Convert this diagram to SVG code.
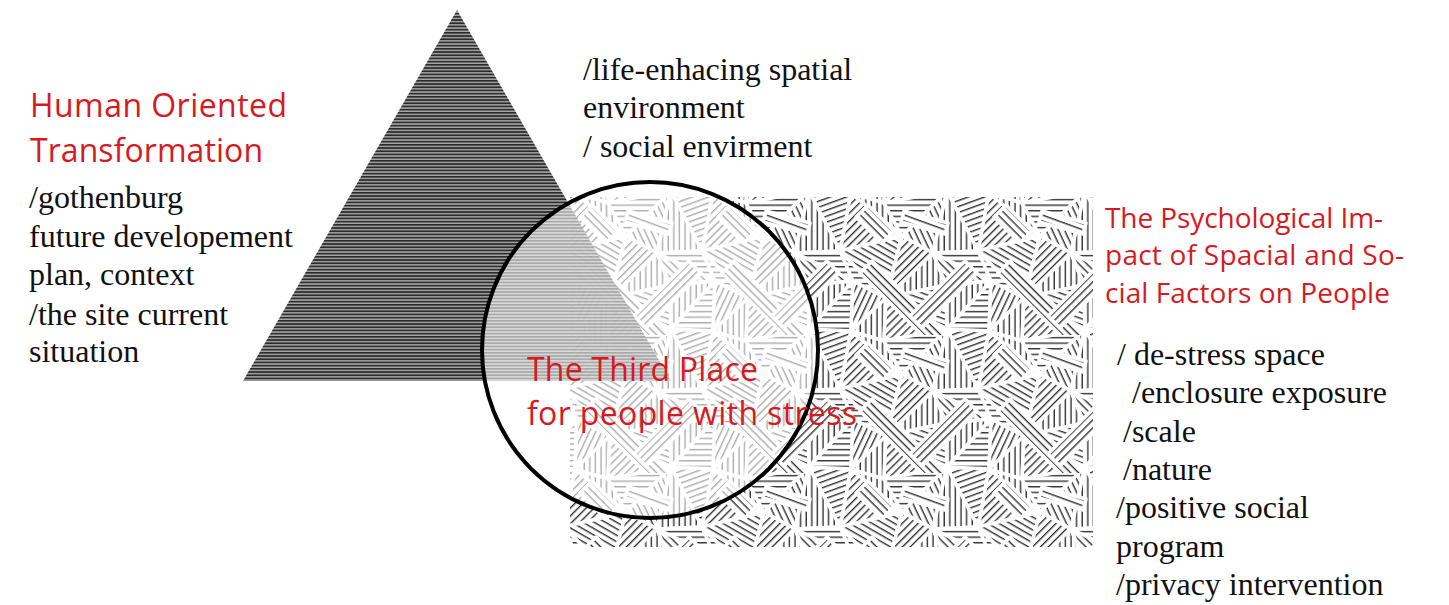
<svg xmlns="http://www.w3.org/2000/svg" width="1449" height="605" viewBox="0 0 1449 605">
  <style>
    .red { font-family: "Open Sans", "Noto Sans", sans-serif; fill: #d71a21; }
    .ser { font-family: "Liberation Serif", "DejaVu Serif", serif; fill: #111; font-size: 32px; }
    .tri { stroke: #fff; stroke-width: 3.5; stroke-linejoin: round; }
  </style>
  <defs>
    <pattern id="h0" patternUnits="userSpaceOnUse" width="8" height="5.6"><rect width="8" height="5.6" fill="#fff"/><rect y="2" width="8" height="1.2" fill="#111"/></pattern>
    <pattern id="h90" patternUnits="userSpaceOnUse" width="8" height="5.6" patternTransform="rotate(90)"><rect width="8" height="5.6" fill="#fff"/><rect y="2" width="8" height="1.2" fill="#111"/></pattern>
    <pattern id="h45" patternUnits="userSpaceOnUse" width="8" height="5.6" patternTransform="rotate(45)"><rect width="8" height="5.6" fill="#fff"/><rect y="2" width="8" height="1.2" fill="#111"/></pattern>
    <pattern id="hm45" patternUnits="userSpaceOnUse" width="8" height="5.6" patternTransform="rotate(-45)"><rect width="8" height="5.6" fill="#fff"/><rect y="2" width="8" height="1.2" fill="#111"/></pattern>
    <pattern id="h20" patternUnits="userSpaceOnUse" width="8" height="5.6" patternTransform="rotate(20)"><rect width="8" height="5.6" fill="#fff"/><rect y="2" width="8" height="1.2" fill="#111"/></pattern>
    <pattern id="hm20" patternUnits="userSpaceOnUse" width="8" height="5.6" patternTransform="rotate(-20)"><rect width="8" height="5.6" fill="#fff"/><rect y="2" width="8" height="1.2" fill="#111"/></pattern>
    <pattern id="h30" patternUnits="userSpaceOnUse" width="8" height="5.6" patternTransform="rotate(30)"><rect width="8" height="5.6" fill="#fff"/><rect y="2" width="8" height="1.2" fill="#111"/></pattern>
    <pattern id="h65" patternUnits="userSpaceOnUse" width="8" height="5.6" patternTransform="rotate(65)"><rect width="8" height="5.6" fill="#fff"/><rect y="2" width="8" height="1.2" fill="#111"/></pattern>
    <pattern id="hm65" patternUnits="userSpaceOnUse" width="8" height="5.6" patternTransform="rotate(-65)"><rect width="8" height="5.6" fill="#fff"/><rect y="2" width="8" height="1.2" fill="#111"/></pattern>

    <g id="tc" class="tri">
      <polygon points="5,-4 38,6 56,39" fill="url(#h90)"/>
      <polygon points="5,-4 56,39 -6,54" fill="url(#hm45)"/>
      <polygon points="38,6 101,-6 56,39" fill="url(#h0)"/>
      <polygon points="101,-6 87,56 56,39" fill="url(#h65)"/>
      <polygon points="101,-6 143,-4 132,54" fill="url(#hm20)"/>
      <polygon points="101,-6 132,54 87,56" fill="url(#h90)"/>
      <polygon points="-6,54 56,39 40,101" fill="url(#h30)"/>
      <polygon points="-6,54 40,101 7,84" fill="url(#h0)"/>
      <polygon points="56,39 87,56 40,101" fill="url(#hm45)"/>
      <polygon points="87,56 100,88 40,101" fill="url(#h90)"/>
      <polygon points="87,56 132,54 145,84" fill="url(#h0)"/>
      <polygon points="87,56 145,84 100,88" fill="url(#h45)"/>
      <polygon points="7,84 40,101 5,134" fill="url(#hm65)"/>
      <polygon points="40,101 38,144 5,134" fill="url(#h90)"/>
      <polygon points="40,101 100,88 101,132" fill="url(#h20)"/>
      <polygon points="40,101 101,132 38,144" fill="url(#hm45)"/>
      <polygon points="100,88 145,84 101,132" fill="url(#h90)"/>
      <polygon points="145,84 143,134 101,132" fill="url(#h0)"/>
      <polygon points="26,64 106,144 94,156 14,76" fill="url(#h45)"/>
      <polygon points="76,131 131,76 119,64 64,119" fill="url(#hm45)"/>
      <polygon points="58,14 102,26 99,37 55,25" fill="url(#h20)"/>
      <polygon points="10,20 22,8 48,34 36,46" fill="url(#h45)"/>
    </g>

    <pattern id="tile" patternUnits="userSpaceOnUse" x="570" y="197" width="138" height="138">
      <rect width="138" height="138" fill="#fff"/>
      <use href="#tc" x="-138" y="-138"/>
      <use href="#tc" x="0" y="-138"/>
      <use href="#tc" x="138" y="-138"/>
      <use href="#tc" x="-138" y="0"/>
      <use href="#tc" x="138" y="0"/>
      <use href="#tc" x="-138" y="138"/>
      <use href="#tc" x="0" y="138"/>
      <use href="#tc" x="138" y="138"/>
      <use href="#tc" x="0" y="0"/>
    </pattern>
    <pattern id="stripes" patternUnits="userSpaceOnUse" width="10" height="3.2">
      <rect width="10" height="3.2" fill="#9c9c9c"/>
      <rect width="10" height="1.7" fill="#1a1a1a"/>
    </pattern>
  </defs>

  <rect width="1449" height="605" fill="#fff"/>

  <g id="factors-field">
    <rect x="570" y="197" width="523" height="350" fill="url(#tile)"/>
  </g>

  <g id="transformation-triangle">
    <polygon points="457,10 243,381 671,381" fill="url(#stripes)" opacity="0.92"/>
  </g>

  <g id="third-place-circle">
    <circle cx="650" cy="350" r="168" fill="#fff" fill-opacity="0.6"/>
    <circle cx="650" cy="350" r="168" fill="none" stroke="#000" stroke-width="4"/>
  </g>

  <g id="label-human">
    <text class="red" x="30" y="117" font-size="32" textLength="257">Human Oriented</text>
    <text class="red" x="30" y="162" font-size="32" textLength="233">Transformation</text>
    <text class="ser" x="29" y="208">/gothenburg</text>
    <text class="ser" x="29" y="247">future developement</text>
    <text class="ser" x="29" y="285">plan, context</text>
    <text class="ser" x="29" y="325">/the site current</text>
    <text class="ser" x="29" y="362">situation</text>
  </g>

  <g id="label-environment">
    <text class="ser" x="583" y="80">/life-enhacing spatial</text>
    <text class="ser" x="583" y="118">environment</text>
    <text class="ser" x="583" y="157">/ social envirment</text>
  </g>

  <g id="label-psychological">
    <text class="red" x="1105" y="228" font-size="28" textLength="278">The Psychological Im-</text>
    <text class="red" x="1105" y="265" font-size="28" textLength="299">pact of Spacial and So-</text>
    <text class="red" x="1105" y="303" font-size="28" textLength="285">cial Factors on People</text>
    <text class="ser" x="1117" y="365">/ de-stress space</text>
    <text class="ser" x="1132" y="403">/enclosure exposure</text>
    <text class="ser" x="1123" y="442">/scale</text>
    <text class="ser" x="1123" y="480">/nature</text>
    <text class="ser" x="1116" y="518">/positive social</text>
    <text class="ser" x="1116" y="557">program</text>
    <text class="ser" x="1116" y="595">/privacy intervention</text>
  </g>

  <g id="label-third-place">
    <text class="red" x="527" y="381" font-size="32" textLength="231">The Third Place</text>
    <text class="red" x="527" y="425" font-size="32" textLength="330">for people with stress</text>
  </g>
</svg>
